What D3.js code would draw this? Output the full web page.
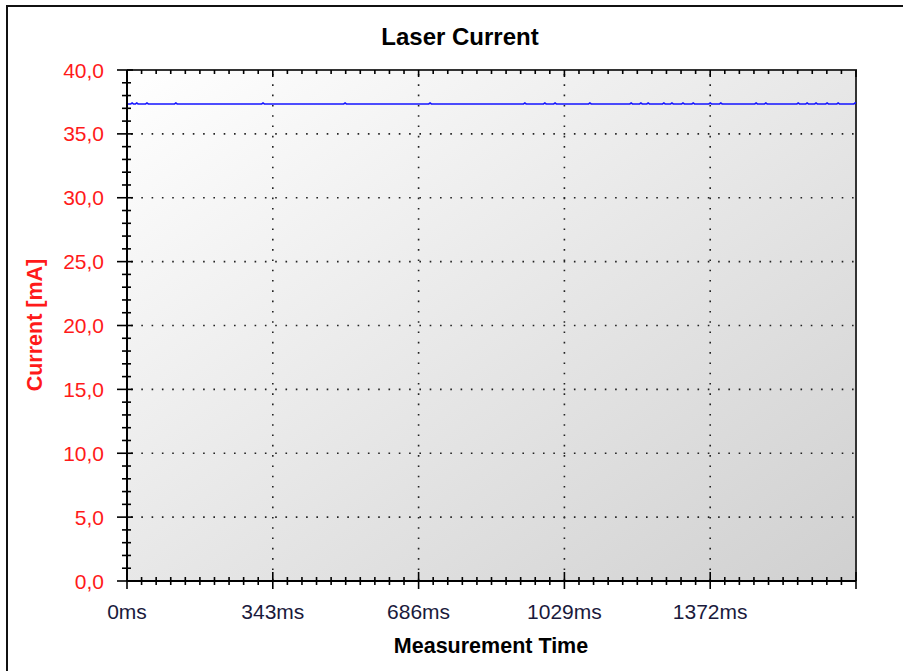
<!DOCTYPE html>
<html><head><meta charset="utf-8">
<script src="https://cdn.jsdelivr.net/npm/d3@7"></script>
<style>body{margin:0;background:#fff;}svg{display:block;}</style>
</head><body>
<script>
// ---- data ----
const title = "Laser Current";
const xLabel = "Measurement Time";
const yLabel = "Current [mA]";
const xTicks = [0, 343, 686, 1029, 1372];
const xTickLabels = ["0ms", "343ms", "686ms", "1029ms", "1372ms"];
const yTicks = [0, 5, 10, 15, 20, 25, 30, 35, 40];
const yTickLabels = ["0,0", "5,0", "10,0", "15,0", "20,0", "25,0", "30,0", "35,0", "40,0"];
const timeMs = [0, 9,12,15, 20,23,26, 44,47,50, 112,115,118, 317,320,323, 510,513,516, 710,713,716,
  933,936,939, 980,983,986, 1004,1007,1010, 1086,1089,1092, 1183,1186,1189, 1206,1209,1212,
  1223,1226,1229, 1260,1263,1266, 1279,1282,1285, 1305,1308,1311, 1329,1332,1335, 1369,1372,1375,
  1394,1397,1400, 1477,1480,1483, 1500,1503,1506, 1576,1579,1582, 1597,1600,1603, 1618,1621,1624,
  1644,1647,1650, 1670,1673,1676, 1710,1713,1715];
const currentMa = [37.34, 37.34,37.42,37.34, 37.34,37.42,37.34, 37.34,37.42,37.34, 37.34,37.42,37.34,
  37.34,37.42,37.34, 37.34,37.42,37.34, 37.34,37.42,37.34, 37.34,37.42,37.34, 37.34,37.42,37.34,
  37.34,37.42,37.34, 37.34,37.42,37.34, 37.34,37.42,37.34, 37.34,37.42,37.34, 37.34,37.42,37.34,
  37.34,37.42,37.34, 37.34,37.42,37.34, 37.34,37.42,37.34, 37.34,37.42,37.34, 37.34,37.42,37.34,
  37.34,37.42,37.34, 37.34,37.42,37.34, 37.34,37.42,37.34, 37.34,37.42,37.34, 37.34,37.42,37.34,
  37.34,37.42,37.34, 37.34,37.42,37.34, 37.34,37.42,37.34, 37.34,37.42,37.40];
const xMax = 1715, yMax = 40;

// ---- layout ----
const W = 903, H = 671;
const L = 127, R = 856, T = 70, B = 581;
const svg = d3.select("body").append("svg").attr("width", W).attr("height", H);
const font = "'Liberation Sans', Arial, sans-serif";

const x = d3.scaleLinear().domain([0, xMax]).range([L, R]);
const y = d3.scaleLinear().domain([0, yMax]).range([B, T]);

// outer frame
svg.append("rect").attr("x", 7).attr("y", 6).attr("width", 910).attr("height", 690)
  .attr("fill", "none").attr("stroke", "#111").attr("stroke-width", 2);

// gradient background
const defs = svg.append("defs");
const g = defs.append("linearGradient").attr("id", "bg").attr("x1", 0).attr("y1", 0).attr("x2", 1).attr("y2", 1);
g.append("stop").attr("offset", "0%").attr("stop-color", "#ffffff");
g.append("stop").attr("offset", "100%").attr("stop-color", "#d0d0d0");
svg.append("rect").attr("x", L).attr("y", T).attr("width", R - L).attr("height", B - T).attr("fill", "url(#bg)");

// grid
const grid = svg.append("g").attr("stroke", "#222").attr("stroke-width", 1.6).attr("stroke-dasharray", "1.6,8.7");
grid.selectAll("line.h").data(yTicks.filter(d => d > 0 && d < yMax)).join("line")
  .attr("x1", L + 4).attr("x2", R).attr("y1", d => y(d)).attr("y2", d => y(d));
grid.selectAll("line.v").data(xTicks.filter(d => d > 0)).join("line").attr("class", "v")
  .attr("y1", T + 4).attr("y2", B).attr("x1", d => x(d)).attr("x2", d => x(d));

// plot frame: top/right
svg.append("path").attr("d", `M${L},${T}H${R}V${B}`).attr("fill", "none").attr("stroke", "#333").attr("stroke-width", 2);

// data line
svg.append("path").datum(timeMs.map((t, i) => [t, currentMa[i]]))
  .attr("fill", "none").attr("stroke", "#1414ff").attr("stroke-width", 1.6)
  .attr("d", d3.line().x(d => x(d[0])).y(d => y(d[1])));

// axes lines
const ax = svg.append("g").attr("stroke", "#000").attr("stroke-width", 2);
ax.append("line").attr("x1", L).attr("x2", R).attr("y1", B).attr("y2", B);
ax.append("line").attr("x1", L).attr("x2", L).attr("y1", T).attr("y2", B);

// x ticks
const xMinor = d3.range(0, 51).map(i => i * xMax / 50);
const tk = svg.append("g").attr("stroke", "#000").attr("stroke-width", 1.6);
tk.selectAll("line.xb").data(xMinor).join("line").attr("class", "xb")
  .attr("x1", d => x(d)).attr("x2", d => x(d))
  .attr("y1", (d, i) => i % 10 === 0 ? B - 9 : B - 4).attr("y2", (d, i) => i % 10 === 0 ? B + 8 : B + 4);
tk.selectAll("line.xt").data(xMinor).join("line").attr("class", "xt")
  .attr("x1", d => x(d)).attr("x2", d => x(d))
  .attr("y1", T).attr("y2", (d, i) => i % 10 === 0 ? T + 7 : T + 4);
// y ticks
const yMinor = d3.range(0, 41);
tk.selectAll("line.y").data(yMinor).join("line").attr("class", "y")
  .attr("y1", d => y(d)).attr("y2", d => y(d))
  .attr("x1", (d, i) => i % 5 === 0 ? L - 10 : L - 5).attr("x2", (d, i) => i % 5 === 0 ? L + 6 : L + 4);

// tick labels
svg.append("g").selectAll("text").data(xTicks).join("text")
  .attr("x", d => x(d)).attr("y", 619).attr("text-anchor", "middle")
  .attr("font-family", font).attr("font-size", 21).attr("fill", "#1a1a3c")
  .text((d, i) => xTickLabels[i]);
svg.append("g").selectAll("text").data(yTicks).join("text")
  .attr("x", 104).attr("y", d => y(d) + 7.5).attr("text-anchor", "end")
  .attr("font-family", font).attr("font-size", 21).attr("fill", "#ff1a1a")
  .text((d, i) => yTickLabels[i]);

// titles
svg.append("text").attr("x", 460).attr("y", 45).attr("text-anchor", "middle")
  .attr("font-family", font).attr("font-size", 24).attr("font-weight", "bold").attr("fill", "#000").text(title);
svg.append("text").attr("x", 491).attr("y", 653).attr("text-anchor", "middle")
  .attr("font-family", font).attr("font-size", 21.5).attr("font-weight", "bold").attr("fill", "#000").text(xLabel);
svg.append("text").attr("transform", "translate(42,325) rotate(-90)").attr("text-anchor", "middle")
  .attr("font-family", font).attr("font-size", 21.5).attr("font-weight", "bold").attr("fill", "#ff1a1a").text(yLabel);
</script>
</body></html>
